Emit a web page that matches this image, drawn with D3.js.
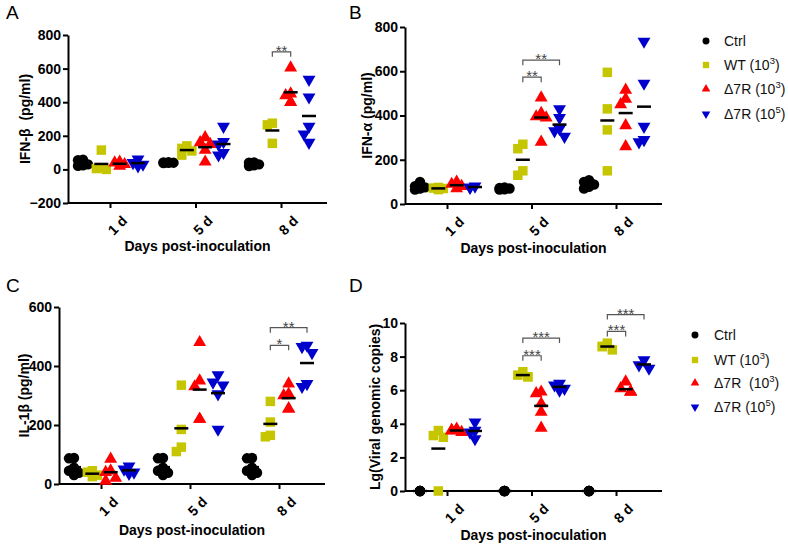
<!DOCTYPE html>
<html>
<head>
<meta charset="utf-8">
<script src="https://cdn.jsdelivr.net/npm/d3@7"></script>
<style>
body { margin: 0; background: #fff; }
svg text { font-family: "Liberation Sans", Arial, sans-serif; }
</style>
</head>
<body>
<svg id="main" width="788" height="546"></svg>
<script>
// categories
const days = ["1 d", "5 d", "8 d"];
const groups = ["Ctrl", "WT", "R3", "R5"];

// A: IFN-beta (pg/ml), one inner array per day
const ifnbCtrl = [[58, 25, 22, 30, 55], [43, 40, 38, 41, 39], [40, 30, 20, 42, 25]];
const ifnbWT = [[115, 10, 0, 5], [140, 125, 85, 110], [275, 265, 155]];
const ifnbR3 = [[45, 20, 30, 40], [190, 160, 150, 115, 45], [605, 450, 440, 400, 400]];
const ifnbR5 = [[60, 30, 20, 40], [255, 165, 150, 100, 85], [535, 430, 255, 210, 160]];
const ifnbTicks = [-200, 0, 200, 400, 600, 800];

// B: IFN-alpha (pg/ml)
const ifnaCtrl = [[75, 70, 65, 80, 100], [70, 65, 72, 75, 66], [100, 108, 88, 70, 78]];
const ifnaWT = [[70, 65, 72, 75], [270, 250, 150, 130], [595, 430, 335, 150]];
const ifnaR3 = [[100, 80, 70, 90], [480, 410, 395, 390, 280], [515, 475, 450, 355, 260]];
const ifnaR5 = [[80, 75, 75], [430, 390, 340, 330, 305], [735, 545, 350, 290, 280]];
const ifnaTicks = [0, 200, 400, 600, 800];

// C: IL-1beta (pg/ml)
const il1bCtrl = [[88, 87, 55, 45, 38, 30], [88, 87, 55, 45, 38, 30], [88, 87, 55, 45, 38, 30]];
const il1bWT = [[45, 40, 30, 25], [335, 185, 125, 110], [280, 210, 165, 160]];
const il1bR3 = [[85, 45, 40, 20, 10], [480, 350, 330, 220, 220], [340, 305, 300, 255, 255]];
const il1bR5 = [[60, 50, 40, 35], [370, 345, 335, 305, 185], [470, 465, 445, 340, 330]];
const il1bTicks = [0, 200, 400, 600];

// D: Lg(viral genomic copies)
const vgcCtrl = [[0, 0, 0, 0, 0], [0, 0, 0, 0, 0], [0, 0, 0, 0, 0]];
const vgcWT = [[3.6, 3.3, 3.2, 0], [7.1, 6.9, 6.8, 6.8], [8.8, 8.6, 8.6, 8.4]];
const vgcR3 = [[3.7, 3.6, 3.6, 3.5, 3.6], [5.9, 5.8, 5.2, 4.7, 3.75], [6.5, 6.1, 5.9, 5.9, 5.9]];
const vgcR5 = [[4.1, 3.6, 3.5, 3.1], [6.4, 6.3, 6.1, 6.0], [7.8, 7.5, 7.3]];
const vgcTicks = [0, 2, 4, 6, 8, 10];

// significance brackets: day index, group from/to, height in data units
const ifnbSig = [{day: 2, a: 1, b: 2, v: 700, txt: "**"}];
const ifnaSig = [{day: 1, a: 1, b: 2, v: 573, txt: "**"}, {day: 1, a: 1, b: 3, v: 650, txt: "**"}];
const il1bSig = [{day: 2, a: 1, b: 2, v: 470, txt: "*"}, {day: 2, a: 1, b: 3, v: 530, txt: "**"}];
const vgcSig = [{day: 1, a: 1, b: 2, v: 8.05, txt: "***"}, {day: 1, a: 1, b: 3, v: 9.1, txt: "***"},
                {day: 2, a: 1, b: 2, v: 9.5, txt: "***"}, {day: 2, a: 1, b: 3, v: 10.5, txt: "***"}];

const colors = {Ctrl: "#000000", WT: "#c6c600", R3: "#ff0000", R5: "#0000cc"};
const FONT = '"Liberation Sans", Arial, sans-serif';

const panels = [
  {letter: "A", lx: 6, ly: 19, x0: 68, x1: 327, y0: 35, y1: 203, dom: [-200, 800], ticks: ifnbTicks,
   ytitle: "IFN-\u03b2  (pg/ml)", tx: 30, xty: 251, series: [ifnbCtrl, ifnbWT, ifnbR3, ifnbR5], sig: ifnbSig},
  {letter: "B", lx: 349, ly: 19, x0: 405, x1: 662, y0: 27, y1: 204, dom: [0, 800], ticks: ifnaTicks,
   ytitle: "IFN-\u03b1 (pg/ml)", tx: 372, xty: 253, series: [ifnaCtrl, ifnaWT, ifnaR3, ifnaR5], sig: ifnaSig},
  {letter: "C", lx: 6, ly: 292, x0: 59, x1: 325, y0: 307, y1: 484, dom: [0, 600], ticks: il1bTicks,
   ytitle: "IL-1\u03b2 (pg/ml)", tx: 29, xty: 535, series: [il1bCtrl, il1bWT, il1bR3, il1bR5], sig: il1bSig},
  {letter: "D", lx: 349, ly: 292, x0: 405, x1: 662, y0: 323, y1: 491, dom: [0, 10], ticks: vgcTicks,
   ytitle: "Lg(Viral genomic copies)", tx: 380, xty: 540, series: [vgcCtrl, vgcWT, vgcR3, vgcR5], sig: vgcSig}
];

const svg = d3.select("#main");

function symbolFor(g, size) {
  if (g === "Ctrl") return d3.symbol().type(d3.symbolCircle).size(size * 0.95)();
  if (g === "WT") return d3.symbol().type(d3.symbolSquare).size(size)();
  return d3.symbol().type(d3.symbolTriangle).size(size * 0.8)();
}

// spread overlapping points sideways, like a scatter dot plot
function dodge(vals, y) {
  const order = vals.map((v, i) => i).sort((a, b) => vals[b] - vals[a]);
  const placed = [];
  const off = [];
  order.forEach(i => {
    const py = y(vals[i]);
    const same = placed.find(p => p.v === vals[i]);
    let best = 0;
    if (same) best = same.o;
    else {
      let bestD = -1;
      for (const c of [0, -1, 1]) {
        const o = c * 5;
        const d = placed.length ? d3.min(placed, p => Math.hypot(p.o - o, p.y - py)) : Infinity;
        if (d >= 8) { best = o; break; }
        if (d > bestD) { bestD = d; best = o; }
      }
    }
    off[i] = best;
    placed.push({v: vals[i], y: py, o: best});
  });
  return off;
}

panels.forEach(p => {
  const g = svg.append("g");
  const x = d3.scalePoint().domain(days).range([p.x0 + 42, p.x1 - 46]);
  const gx = d3.scalePoint().domain(groups).range([-27, 28]);
  const y = d3.scaleLinear().domain(p.dom).range([p.y1, p.y0]);

  g.append("text").attr("x", p.lx).attr("y", p.ly).attr("font-size", 19).text(p.letter);

  // axes
  const ya = g.append("g").attr("transform", `translate(${p.x0},0)`)
    .call(d3.axisLeft(y).tickValues(p.ticks).tickSize(5).tickPadding(2).tickSizeOuter(0));
  const xa = g.append("g").attr("transform", `translate(0,${p.y1})`)
    .call(d3.axisBottom(x).tickSize(5).tickSizeOuter(0));
  xa.select(".domain").attr("d", `M${p.x0},0H${p.x1}`);
  [ya, xa].forEach(a => {
    a.selectAll("path,line").attr("stroke", "#000").attr("stroke-width", 2);
    a.selectAll("text").attr("font-family", FONT).attr("font-weight", "bold")
      .attr("font-size", 14).attr("fill", "#000");
  });
  xa.selectAll("text")
    .attr("text-anchor", "end")
    .attr("transform", "translate(5,6) rotate(-45)")
    .attr("dy", "0.7em");

  g.append("text")
    .attr("transform", `translate(${p.tx},${(p.y0 + p.y1) / 2}) rotate(-90)`)
    .attr("text-anchor", "middle").attr("font-weight", "bold").attr("font-size", 14)
    .style("white-space", "pre").text(p.ytitle);
  g.append("text")
    .attr("x", (p.x0 + p.x1) / 2).attr("y", p.xty)
    .attr("text-anchor", "middle").attr("font-weight", "bold").attr("font-size", 14)
    .text("Days post-inoculation");

  // points and mean lines
  groups.forEach((grp, gi) => {
    days.forEach((day, di) => {
      const vals = p.series[gi][di];
      const cx = x(day) + gx(grp);
      const off = dodge(vals, y);
      g.selectAll(null).data(vals).enter().append("path")
        .attr("d", symbolFor(grp, 90))
        .attr("transform", (v, i) => `translate(${cx + off[i]},${y(v)})` + (grp === "R5" ? " rotate(180)" : ""))
        .attr("fill", colors[grp]);
      const m = d3.mean(vals);
      g.append("line")
        .attr("x1", cx - 7).attr("x2", cx + 7)
        .attr("y1", y(m)).attr("y2", y(m))
        .attr("stroke", "#000").attr("stroke-width", 2.5);
    });
  });

  // significance brackets
  p.sig.forEach(s => {
    const xa1 = x(days[s.day]) + gx(groups[s.a]);
    const xb1 = x(days[s.day]) + gx(groups[s.b]);
    const yy = y(s.v);
    g.append("path")
      .attr("d", `M${xa1},${yy + 5}V${yy}H${xb1}V${yy + 5}`)
      .attr("fill", "none").attr("stroke", "#555").attr("stroke-width", 1.2);
    g.append("text")
      .attr("x", (xa1 + xb1) / 2).attr("y", yy + 4)
      .attr("text-anchor", "middle").attr("font-size", 15).attr("fill", "#444")
      .text(s.txt);
  });
});

// legends
const legendRows = [
  {g: "Ctrl", label: ["Ctrl"]},
  {g: "WT", label: ["WT (10", "3", ")"]},
  {g: "R3", label: ["\u03947R (10", "3", ")"]},
  {g: "R5", label: ["\u03947R (10", "5", ")"]}
];
const legendRows2 = [
  {g: "Ctrl", label: ["Ctrl"]},
  {g: "WT", label: ["WT (10", "3", ")"]},
  {g: "R3", label: ["\u03947R\u00a0\u00a0(10", "3", ")"]},
  {g: "R5", label: ["\u03947R (10", "5", ")"]}
];

function drawLegend(rows, mx, tx, ys) {
  rows.forEach((r, i) => {
    svg.append("path")
      .attr("d", symbolFor(r.g, 40))
      .attr("transform", `translate(${mx},${ys[i]})` + (r.g === "R5" ? " rotate(180)" : ""))
      .attr("fill", colors[r.g]);
    const t = svg.append("text").attr("x", tx).attr("y", ys[i] + 5)
      .attr("font-size", 14).attr("fill", "#111");
    t.append("tspan").text(r.label[0]);
    if (r.label.length > 1) {
      t.append("tspan").attr("dy", -6).attr("font-size", 9.5).text(r.label[1]);
      t.append("tspan").attr("dy", 6).text(r.label[2]);
    }
  });
}
drawLegend(legendRows, 706, 724, [41, 65, 89, 114]);
drawLegend(legendRows2, 695, 714, [335, 360, 383, 407]);
</script>
</body>
</html>
